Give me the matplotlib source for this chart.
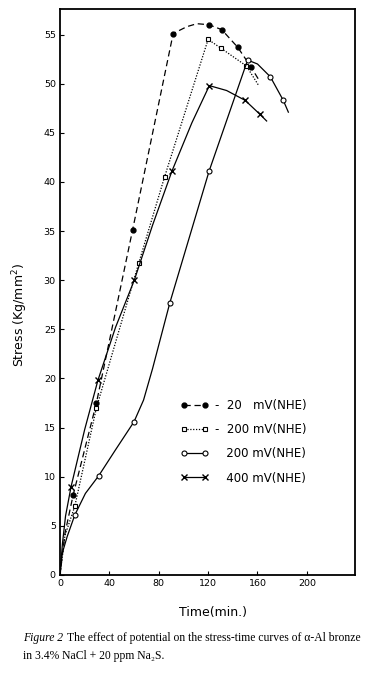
import matplotlib
matplotlib.use('Agg')
import matplotlib.pyplot as plt
from matplotlib.lines import Line2D

# --- data (time in min, stress in Kg/mm2) ---
# 20 mV (NHE): filled circles, dashed
t20_line = [0, 4, 10.6, 29.5, 58.8, 91.7, 102.8, 110.9, 120.5, 131, 144, 154.7, 162]
s20_line = [0, 4.2, 8.1, 17.5, 35.1, 55.1, 55.8, 56.1, 56.0, 55.5, 53.7, 51.7, 50.2]
t20_pts = [10.6, 29.5, 58.8, 91.7, 120.5, 131, 144, 154.7]
s20_pts = [8.1, 17.5, 35.1, 55.1, 56.0, 55.5, 53.7, 51.7]

# 200 mV (NHE): open squares, dotted
t200a_line = [0, 4, 12, 29.5, 63.7, 84.7, 120, 130.5, 151, 161]
s200a_line = [0, 4.0, 7.0, 17.0, 31.7, 40.5, 54.5, 53.6, 51.8, 49.8]
t200a_pts = [12, 29.5, 63.7, 84.7, 120, 130.5, 151]
s200a_pts = [7.0, 17.0, 31.7, 40.5, 54.5, 53.6, 51.8]

# 200 mV (NHE): open circles, solid
t200b_line = [0, 1.8, 5.8, 12, 20.6, 31.4, 44.8, 60, 67.7, 75, 89, 120.8, 152, 160, 170.4, 180.9, 185]
s200b_line = [0, 2.2, 3.9, 6.1, 8.3, 10.1, 12.7, 15.6, 17.8, 21.0, 27.7, 41.1, 52.4, 52.0, 50.7, 48.3, 47.1]
t200b_pts = [12, 31.4, 60, 89, 120.8, 152, 170.4, 180.9]
s200b_pts = [6.1, 10.1, 15.6, 27.7, 41.1, 52.4, 50.7, 48.3]

# 400 mV (NHE): crosses, solid
t400_line = [0, 2, 4.5, 9, 20, 30.7, 45, 60.2, 75, 90.7, 106.8, 121, 135, 150, 161.8, 167.4]
s400_line = [0, 3.2, 6.0, 9.0, 14.8, 19.8, 25.2, 30.0, 35.6, 41.1, 46.0, 49.8, 49.3, 48.3, 46.9, 46.2]
t400_pts = [9, 30.7, 60.2, 90.7, 121, 150, 161.8]
s400_pts = [9.0, 19.8, 30.0, 41.1, 49.8, 48.3, 46.9]

x_ticks = [0, 40, 80, 120, 160, 200]
y_ticks = [0, 5, 10, 15, 20, 25, 30, 35, 40, 45, 50, 55]
labels = ['-  20   mV(NHE)', '-  200 mV(NHE)', '   200 mV(NHE)', '   400 mV(NHE)']

fig = plt.figure(figsize=(3.86, 6.79), dpi=100)
ax = fig.add_axes([0.1554, 0.1532, 0.7643, 0.8336])

lw = 0.9
dash = (0, (5, 3))
dot = (0, (1, 1.3))

ax.plot(t20_line, s20_line, color='k', lw=lw, linestyle=dash)
ax.plot(t20_pts, s20_pts, 'o', color='k', ms=3.5, ls='none')

ax.plot(t200a_line, s200a_line, color='k', lw=lw, linestyle=dot)
ax.plot(t200a_pts, s200a_pts, 's', mfc='white', mec='k', mew=0.8, ms=3.2, ls='none')

ax.plot(t200b_line, s200b_line, color='k', lw=lw)
ax.plot(t200b_pts, s200b_pts, 'o', mfc='white', mec='k', mew=0.8, ms=3.6, ls='none')

ax.plot(t400_line, s400_line, color='k', lw=lw)
ax.plot(t400_pts, s400_pts, 'x', color='k', mew=1.0, ms=5, ls='none')

ax.set_xlim(0, 239)
ax.set_ylim(0, 57.6)
ax.set_xticks(x_ticks)
ax.set_yticks(y_ticks)
ax.tick_params(direction='in', length=3, width=0.8, labelsize=6.8, pad=3)
for sp in ax.spines.values():
    sp.set_linewidth(1.3)

ax.set_ylabel('Stress (Kg/mm$^2$)', fontsize=9)
ax.yaxis.set_label_coords(-0.10, 0.46)
ax.set_xlabel('Time(min.)', fontsize=9)
ax.xaxis.set_label_coords(0.52, -0.054)

handles = [
    Line2D([], [], color='k', lw=lw, linestyle=dash, marker='o', ms=3.5),
    Line2D([], [], color='k', lw=lw, linestyle=dot, marker='s', mfc='white', mec='k', mew=0.8, ms=3.2),
    Line2D([], [], color='k', lw=lw, marker='o', mfc='white', mec='k', mew=0.8, ms=3.6),
    Line2D([], [], color='k', lw=lw, marker='x', mew=1.0, ms=5),
]
ax.legend(handles, labels, loc='upper left', bbox_to_anchor=(0.41, 0.311),
          frameon=False, numpoints=2, handlelength=2.3, handletextpad=0.6,
          labelspacing=0.95, borderpad=0, borderaxespad=0, fontsize=8.5)

# caption
cap_font = 'Liberation Serif'
fs = 8.4
t1 = fig.text(23 / 386, 1 - 641 / 679, 'Figure 2', fontsize=fs, family=cap_font, style='italic')
fig.canvas.draw()
bb = t1.get_window_extent()
fig.text((bb.x1 + 4) / 386, 1 - 641 / 679,
         'The effect of potential on the stress-time curves of \u03b1-Al bronze',
         fontsize=fs, family=cap_font)
fig.text(23 / 386, 1 - 659 / 679, 'in 3.4% NaCl + 20 ppm Na\u2082S.',
         fontsize=fs, family=cap_font)

plt.savefig('out.png', dpi=100)
